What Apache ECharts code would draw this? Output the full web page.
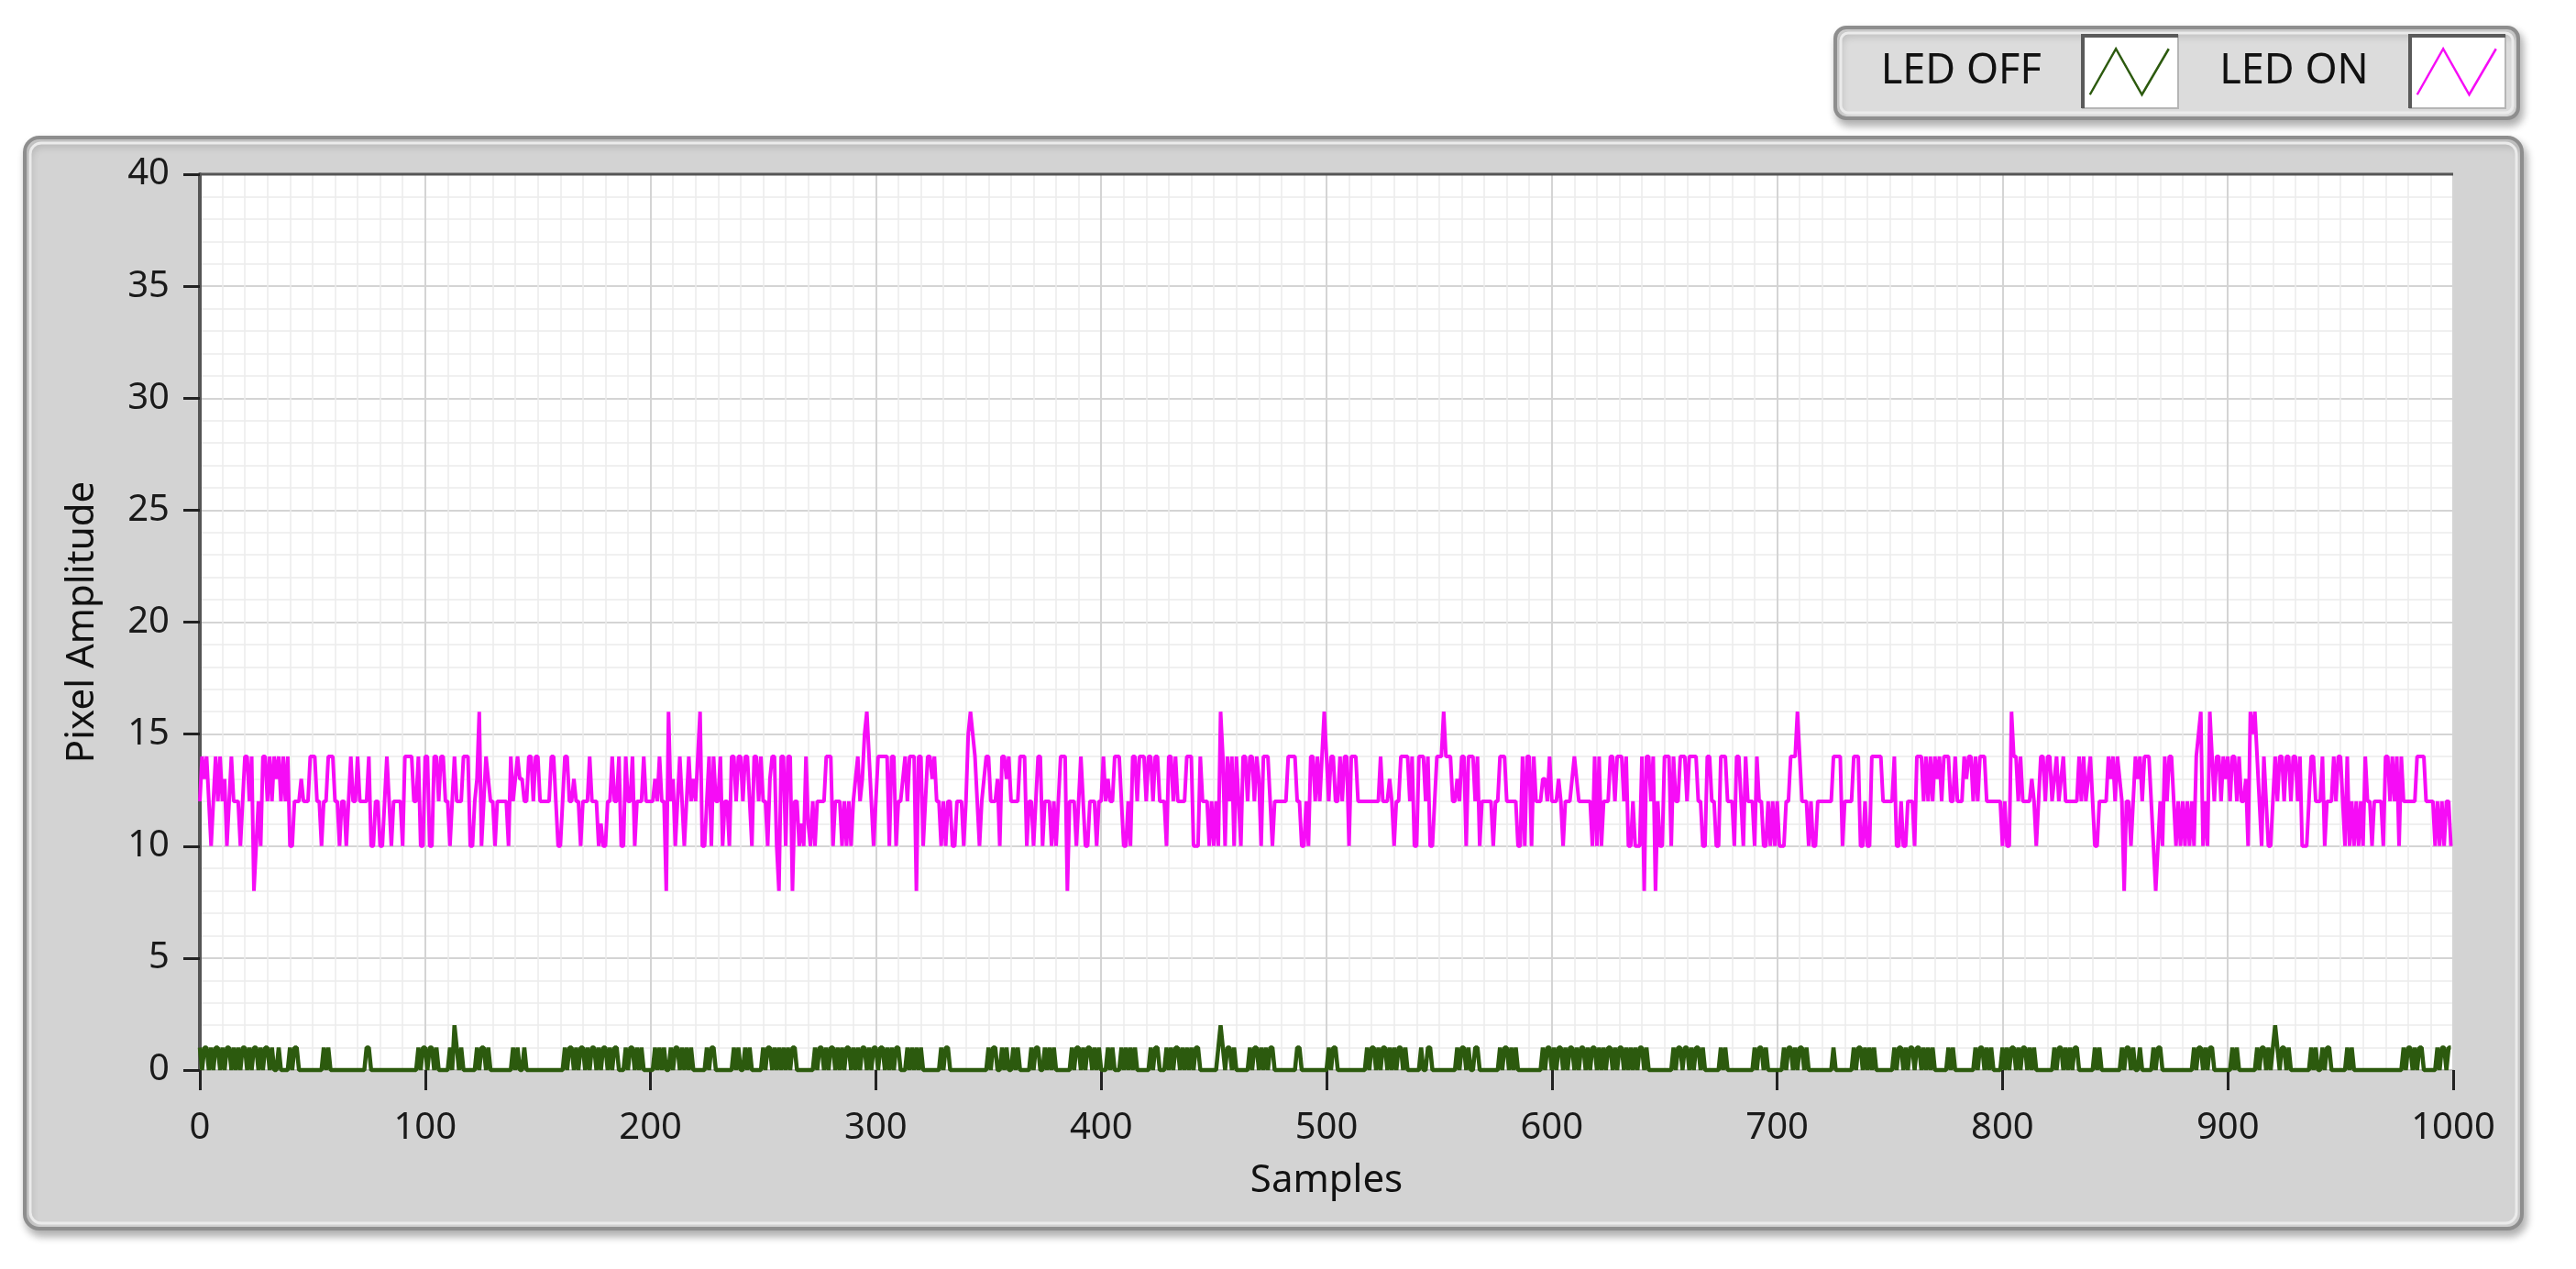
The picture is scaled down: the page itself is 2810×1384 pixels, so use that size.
<!DOCTYPE html>
<html>
<head>
<meta charset="utf-8">
<title>LED OFF / LED ON</title>
<script src="https://cdn.jsdelivr.net/npm/echarts@6/dist/echarts.min.js"></script>
<style>
  html, body { margin: 0; padding: 0; background: #ffffff; }
  #chart { width: 2810px; height: 1384px; }
</style>
</head>
<body>
<div id="chart"></div>
<script>
// legend names
var seriesNames = ['LED OFF', 'LED ON'];

// LED ON - pixel amplitude, samples 0..999 (100 per block)
var ledOn000 = [
  12,14,13,14,12,10,12,14,12,14,
  12,13,10,12,14,12,12,12,10,12,
  14,14,12,14,8,10,12,10,14,14,
  12,14,12,14,13,14,12,14,12,14,
  10,10,12,12,12,13,12,12,12,14,
  14,14,12,12,10,12,12,14,14,14,
  12,12,10,12,12,10,12,14,12,12,
  14,12,12,12,12,14,10,10,12,12,
  10,10,12,14,12,10,12,12,12,12,
  10,14,14,14,14,12,12,14,10,10
];
var ledOn100 = [
  14,14,10,10,14,14,12,14,14,12,
  12,10,12,14,12,12,12,14,14,14,
  10,10,12,13,16,10,12,14,13,12,
  12,10,12,12,12,12,12,10,14,12,
  13,14,13,13,12,12,14,14,12,14,
  14,12,12,12,12,12,14,14,12,10,
  10,12,14,14,12,12,13,12,12,10,
  12,12,12,14,12,12,12,10,11,10,
  10,12,12,14,12,12,14,10,10,14,
  12,12,14,10,12,12,12,14,12,12
];
var ledOn200 = [
  12,12,13,12,14,12,12,8,16,12,
  13,10,12,14,12,10,12,14,12,13,
  12,14,16,10,10,12,14,10,14,12,
  12,14,10,12,12,10,14,14,12,14,
  14,12,14,14,12,10,14,14,12,14,
  12,12,10,13,14,14,10,8,14,14,
  10,14,14,8,12,12,10,11,10,14,
  11,10,12,10,12,12,12,12,14,14,
  14,10,12,12,12,10,12,10,12,10,
  12,13,14,12,13,15,16,14,12,10
];
var ledOn300 = [
  12,14,14,14,14,14,10,14,14,10,
  12,12,13,14,12,14,14,14,8,14,
  14,10,12,14,14,13,14,12,12,10,
  12,10,12,12,10,10,12,12,12,10,
  12,15,16,15,14,12,10,12,13,14,
  14,12,12,12,13,10,14,14,13,14,
  12,12,12,12,14,14,14,10,12,12,
  10,12,14,14,10,12,12,12,10,12,
  10,12,14,14,14,8,12,12,12,10,
  12,14,12,10,10,12,12,12,10,12
];
var ledOn400 = [
  12,14,12,13,12,12,14,14,14,12,
  10,10,12,10,14,14,12,14,14,14,
  12,14,14,12,14,14,12,12,12,10,
  14,14,12,14,12,12,12,12,14,14,
  14,10,10,10,14,12,12,12,10,12,
  10,12,10,16,14,10,14,12,14,10,
  14,12,10,14,14,12,14,14,12,14,
  13,10,14,14,14,12,10,12,12,12,
  12,12,12,14,14,14,14,12,12,10,
  10,12,10,14,14,12,14,12,14,16
];
var ledOn500 = [
  14,12,14,14,12,12,14,12,14,14,
  10,14,14,14,12,12,12,12,12,12,
  12,12,12,12,14,12,12,12,13,12,
  10,12,12,14,14,14,14,12,14,10,
  10,14,14,14,12,14,10,10,12,14,
  14,14,16,14,14,14,12,12,13,12,
  14,14,10,14,14,14,12,14,10,12,
  12,12,12,12,10,12,12,14,14,14,
  12,12,12,12,12,10,10,14,10,14,
  14,10,14,12,12,12,13,13,12,14
];
var ledOn600 = [
  12,12,12,13,12,10,12,12,12,13,
  14,13,12,12,12,12,12,12,10,14,
  10,14,10,12,12,12,14,14,12,14,
  14,14,12,14,10,10,12,10,10,10,
  14,8,14,14,12,14,8,12,10,10,
  14,14,14,10,14,12,12,14,14,14,
  12,14,14,14,14,12,12,10,10,14,
  14,12,12,10,10,14,14,14,12,12,
  12,10,14,14,12,10,14,12,12,12,
  10,14,12,12,10,10,12,10,12,10
];
var ledOn700 = [
  12,10,10,10,12,12,14,14,14,16,
  14,12,12,12,10,12,10,10,12,12,
  12,12,12,12,12,14,14,14,14,10,
  12,12,12,12,14,14,14,10,10,12,
  10,10,14,14,14,14,14,12,12,12,
  12,12,14,10,10,12,10,10,12,12,
  12,10,14,14,14,12,14,12,14,12,
  14,13,14,12,14,14,14,12,12,14,
  12,12,12,14,13,14,14,12,14,12,
  14,14,14,12,12,12,12,12,12,12
];
var ledOn800 = [
  10,12,10,10,16,14,14,12,14,12,
  12,12,12,13,12,10,12,14,14,12,
  14,14,12,13,14,12,13,14,12,12,
  12,12,12,12,14,12,14,12,13,14,
  12,10,10,12,12,12,12,14,13,14,
  12,14,13,12,8,12,12,10,12,14,
  13,14,12,14,14,14,12,10,8,10,
  12,10,14,12,14,14,12,10,12,10,
  12,10,12,10,12,10,14,15,16,10,
  12,10,16,14,12,14,14,12,14,13
];
var ledOn900 = [
  14,12,14,14,12,14,12,12,13,10,
  16,15,16,14,12,10,14,12,10,10,
  12,14,12,14,14,12,14,14,12,14,
  14,12,14,10,10,10,12,14,14,12,
  12,12,14,10,12,12,12,14,12,14,
  14,12,10,14,10,12,10,12,10,12,
  10,14,12,12,10,12,12,12,12,10,
  14,14,12,14,12,14,10,14,12,12,
  12,12,12,12,14,14,14,14,12,12,
  12,12,10,12,10,12,10,12,12,10
];

// LED OFF - pixel amplitude, samples 0..999
var ledOff000 = [
  1,0,1,1,0,1,0,1,1,0,
  1,0,1,1,0,1,0,1,0,1,
  1,0,1,0,1,1,0,1,0,1,
  1,0,1,0,0,1,0,0,0,0,
  1,0,1,1,0,0,0,0,0,0,
  0,0,0,0,0,1,0,1,0,0,
  0,0,0,0,0,0,0,0,0,0,
  0,0,0,0,1,1,0,0,0,0,
  0,0,0,0,0,0,0,0,0,0,
  0,0,0,0,0,0,0,1,0,1
];
var ledOff100 = [
  1,0,1,1,0,1,0,0,0,0,
  0,1,0,2,1,0,1,0,0,0,
  0,0,0,1,0,1,1,0,1,0,
  0,0,0,0,0,0,0,0,0,1,
  0,1,0,0,1,0,0,0,0,0,
  0,0,0,0,0,0,0,0,0,0,
  0,0,1,0,1,1,0,1,0,1,
  1,0,1,0,1,1,0,1,0,1,
  1,0,1,0,1,1,0,0,0,1,
  0,1,1,0,1,0,1,0,0,0
];
var ledOff200 = [
  0,0,1,0,1,0,1,0,0,1,
  0,1,1,0,1,0,1,0,1,0,
  0,0,0,0,0,1,0,1,1,0,
  0,0,0,0,0,0,0,1,0,1,
  0,0,1,0,1,0,0,0,0,0,
  1,0,1,1,0,1,0,1,0,1,
  0,1,0,1,1,0,0,0,0,0,
  0,0,0,1,0,1,1,0,1,0,
  1,1,0,1,0,1,0,1,1,0,
  1,0,1,0,1,1,0,1,0,1
];
var ledOff300 = [
  1,0,1,1,0,1,0,1,0,1,
  1,0,0,0,1,0,1,0,1,0,
  1,0,0,0,0,0,0,0,0,1,
  0,1,1,0,0,0,0,0,0,0,
  0,0,0,0,0,0,0,0,0,0,
  1,0,1,1,0,0,1,0,1,0,
  0,1,0,1,0,0,0,0,0,1,
  0,1,1,0,0,1,0,1,0,1,
  0,0,0,0,0,0,0,1,0,1,
  1,0,1,0,1,1,0,1,0,1
];
var ledOff400 = [
  0,0,0,1,0,1,0,0,0,1,
  0,1,0,1,0,1,0,0,0,0,
  0,0,1,0,1,1,0,0,0,1,
  0,1,0,1,1,0,1,0,1,0,
  1,0,1,1,0,0,0,0,0,0,
  0,0,1,2,1,0,1,1,0,1,
  0,0,0,0,0,0,1,0,1,1,
  0,1,0,1,0,1,1,0,0,0,
  0,0,0,0,0,0,0,1,1,0,
  0,0,0,0,0,0,0,0,0,0
];
var ledOff500 = [
  0,1,0,1,1,0,0,0,0,0,
  0,0,0,0,0,0,0,0,1,0,
  1,1,0,1,0,1,1,0,1,0,
  1,0,1,1,0,1,0,0,0,0,
  0,0,1,0,0,1,1,0,0,0,
  0,0,0,0,0,0,0,0,1,0,
  1,1,0,1,0,0,1,1,0,0,
  0,0,0,0,0,0,0,1,0,1,
  1,0,1,0,1,0,0,0,0,0,
  0,0,0,0,0,0,1,0,1,1
];
var ledOff600 = [
  0,1,0,1,1,0,1,0,1,1,
  0,1,0,1,1,0,1,0,1,1,
  0,1,0,1,0,1,1,0,1,0,
  1,1,0,1,0,1,0,1,0,1,
  1,0,1,0,0,0,0,0,0,0,
  0,0,0,0,1,0,1,1,0,1,
  1,0,1,0,1,1,0,1,0,0,
  0,0,0,0,0,1,0,1,0,0,
  0,0,0,0,0,0,0,0,0,0,
  1,0,1,1,0,1,0,0,0,0
];
var ledOff700 = [
  0,0,0,1,0,1,1,0,1,0,
  1,1,0,1,0,0,0,0,0,0,
  0,0,0,0,0,1,0,0,0,0,
  0,0,0,0,1,0,1,1,0,1,
  0,1,0,1,0,0,0,0,0,0,
  0,0,1,0,1,1,0,1,0,1,
  1,0,1,1,0,1,0,1,0,1,
  0,0,0,0,0,0,1,0,1,0,
  0,0,0,0,0,0,0,0,1,0,
  1,1,0,1,0,1,0,0,0,0
];
var ledOff800 = [
  1,0,1,0,1,1,0,1,0,1,
  1,0,1,0,1,0,0,0,0,0,
  0,0,0,1,0,1,1,0,1,0,
  1,0,1,1,0,0,0,0,0,0,
  0,1,0,1,0,0,0,0,0,0,
  0,0,0,1,0,1,1,0,1,0,
  0,1,0,0,0,0,0,1,0,1,
  1,0,0,0,0,0,0,0,0,0,
  0,0,0,0,0,1,0,1,1,0,
  1,0,1,1,0,0,0,0,0,0
];
var ledOff900 = [
  0,0,1,0,1,0,0,0,0,0,
  0,0,0,1,0,1,1,0,1,0,
  1,2,1,0,1,1,0,1,0,0,
  0,0,0,0,0,0,0,1,0,1,
  0,0,1,0,1,1,0,0,0,0,
  0,0,0,1,0,1,0,0,0,0,
  0,0,0,0,0,0,0,0,0,0,
  0,0,0,0,0,0,0,0,1,0,
  1,1,0,1,0,1,1,0,0,0,
  0,0,0,1,0,1,1,0,1,1
];

var ledOn = [].concat(ledOn000, ledOn100, ledOn200, ledOn300, ledOn400,
  ledOn500, ledOn600, ledOn700, ledOn800, ledOn900);
var ledOff = [].concat(ledOff000, ledOff100, ledOff200, ledOff300, ledOff400,
  ledOff500, ledOff600, ledOff700, ledOff800, ledOff900);

var offColor = '#2c5a0e';
var onColor = '#f60cf6';
var fontName = 'Noto Sans';
var zig = 'path://M0,100 L33,0 L66,100 L100,0';

// sample index -> [x, y]
function toPoints(arr) {
  var pts = [];
  for (var i = 0; i < arr.length; i++) {
    pts.push([i, arr[i]]);
  }
  return pts;
}

// gray LabVIEW panels behind the chart
function panel(x, y, w, h, r, fill) {
  return [{
    type: 'rect', z: -10,
    shape: { x: x, y: y, width: w, height: h, r: r },
    style: {
      fill: fill, stroke: '#8e8e8e', lineWidth: 4,
      shadowBlur: 10, shadowOffsetX: 3, shadowOffsetY: 6, shadowColor: 'rgba(0,0,0,0.3)'
    }
  }, {
    type: 'rect', z: -9,
    shape: { x: x + 6, y: y + 6, width: w - 12, height: h - 12, r: r - 4 },
    style: { fill: 'none', stroke: '#ebebeb', lineWidth: 3 }
  }];
}

function iconBox(x, y, w, h) {
  return [{
    type: 'rect', z: -8,
    shape: { x: x, y: y, width: w, height: h },
    style: { fill: '#ffffff', stroke: '#b5b5b5', lineWidth: 2 }
  }, {
    type: 'polyline', z: -7,
    shape: { points: [[x, y + h], [x, y], [x + w, y]] },
    style: { fill: 'none', stroke: '#5a5a5a', lineWidth: 4 }
  }];
}

var graphics = [].concat(
  panel(27, 150, 2724, 1190, 16, '#d3d3d3'),
  panel(2002, 30, 745, 99, 12, '#dcdcdc'),
  iconBox(2272, 39, 104, 79),
  iconBox(2629, 39, 104, 79),
  [{
    // dark top edge of the plot area
    type: 'line', z: 10,
    shape: { x1: 218, y1: 190, x2: 2676, y2: 190 },
    style: { stroke: '#555555', lineWidth: 3 }
  }]
);

function legendFor(name, color, right) {
  return {
    data: [{
      name: name,
      icon: zig,
      itemStyle: { color: 'transparent', borderColor: color, borderWidth: 2.5 }
    }],
    right: right,
    top: 52,
    padding: 0,
    align: 'right',
    itemWidth: 86,
    itemHeight: 50,
    symbolKeepAspect: false,
    selectedMode: false,
    textStyle: { fontFamily: fontName, fontSize: 45, color: '#111111', padding: [0, 48, 0, 0] }
  };
}

var chart = echarts.init(document.getElementById('chart'));

var option = {
  animation: false,
  backgroundColor: '#ffffff',
  graphic: { elements: graphics },
  legend: [
    legendFor(seriesNames[0], offColor, 443),
    legendFor(seriesNames[1], onColor, 86)
  ],
  grid: {
    show: true,
    left: 218,
    right: 134,
    top: 190,
    bottom: 217,
    backgroundColor: '#ffffff',
    borderWidth: 0
  },
  xAxis: {
    type: 'value',
    min: 0,
    max: 1000,
    interval: 100,
    name: 'Samples',
    nameLocation: 'middle',
    nameGap: 100,
    nameTextStyle: { fontFamily: fontName, fontSize: 42, color: '#111111' },
    axisLine: { show: true, onZero: false, lineStyle: { color: '#c2c2c2', width: 2 } },
    axisTick: { show: true, length: 22, lineStyle: { color: '#222222', width: 3 } },
    axisLabel: {
      fontFamily: fontName, fontSize: 40, color: '#1a1a1a', margin: 44,
      formatter: function (v) { return String(v); }
    },
    splitLine: { show: true, lineStyle: { color: '#d4d4d4', width: 2 } },
    minorTick: { show: false, splitNumber: 10 },
    minorSplitLine: { show: true, lineStyle: { color: '#ebebeb', width: 1.5 } }
  },
  yAxis: {
    type: 'value',
    min: 0,
    max: 40,
    interval: 5,
    name: 'Pixel Amplitude',
    nameLocation: 'middle',
    nameRotate: 90,
    nameGap: 107,
    nameTextStyle: { fontFamily: fontName, fontSize: 42, color: '#111111' },
    axisLine: { show: true, lineStyle: { color: '#555555', width: 4 } },
    axisTick: { show: true, length: 18, lineStyle: { color: '#222222', width: 3 } },
    axisLabel: { fontFamily: fontName, fontSize: 40, color: '#1a1a1a', margin: 33 },
    splitLine: { show: true, lineStyle: { color: '#d4d4d4', width: 2 } },
    minorTick: { show: false, splitNumber: 5 },
    minorSplitLine: { show: true, lineStyle: { color: '#ebebeb', width: 1.5 } }
  },
  series: [{
    name: seriesNames[0],
    type: 'line',
    data: toPoints(ledOff),
    showSymbol: false,
    clip: false,
    color: offColor,
    lineStyle: { color: offColor, width: 4.5 }
  }, {
    name: seriesNames[1],
    type: 'line',
    data: toPoints(ledOn),
    showSymbol: false,
    clip: false,
    color: onColor,
    lineStyle: { color: onColor, width: 4 }
  }]
};

chart.setOption(option);
</script>
</body>
</html>
